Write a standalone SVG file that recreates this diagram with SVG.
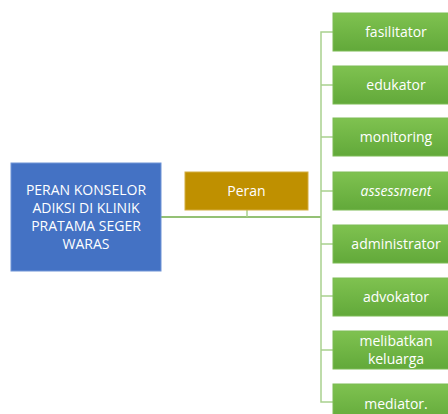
<svg xmlns="http://www.w3.org/2000/svg" width="448" height="414" viewBox="0 0 448 414">
<style>
.t{font-family:"Open Sans","Liberation Sans",sans-serif;font-size:14px;fill:#fff;text-anchor:middle}
.g{fill:url(#gg);stroke:#7dbb55;stroke-width:1}
.c{fill:none;stroke:#a9d18e;stroke-width:1.5}
</style>
<defs>
<linearGradient id="gg" x1="0" y1="0" x2="0" y2="1">
<stop offset="0" stop-color="#7fc250"/>
<stop offset="1" stop-color="#62a93a"/>
</linearGradient>
</defs>
<rect width="448" height="414" fill="#fff"/>
<g id="connectors">
<line x1="161" y1="217" x2="321" y2="217" stroke="#70ad47" stroke-width="1.5"/>
<line x1="247" y1="210" x2="247" y2="217" class="c"/>
<path class="c" d="M333 32H321V402H333M321 85H333M321 137H333M321 191H333M321 244H333M321 296H333M321 350H333"/>
</g>
<g id="root">
<rect x="11" y="163" width="150" height="108" fill="#4472c4" stroke="#6f94d6" stroke-width="1"/>
<text class="t" x="86" y="195">PERAN KONSELOR</text>
<text class="t" x="86" y="213">ADIKSI DI KLINIK</text>
<text class="t" x="86" y="231">PRATAMA SEGER</text>
<text class="t" x="86" y="249">WARAS</text>
</g>
<g id="peran">
<rect x="185" y="172" width="123" height="38" fill="#bf9000" stroke="#d4ad40" stroke-width="1"/>
<text class="t" x="246.5" y="196">Peran</text>
</g>
<g id="n1"><rect class="g" x="333" y="13" width="126" height="38"/><text class="t" x="396" y="37">fasilitator</text></g>
<g id="n2"><rect class="g" x="333" y="66" width="126" height="38"/><text class="t" x="396" y="90">edukator</text></g>
<g id="n3"><rect class="g" x="333" y="118" width="126" height="38"/><text class="t" x="396" y="142">monitoring</text></g>
<g id="n4"><rect class="g" x="333" y="172" width="126" height="38"/><text class="t" x="396" y="196" font-style="italic">assessment</text></g>
<g id="n5"><rect class="g" x="333" y="225" width="126" height="38"/><text class="t" x="396" y="249">administrator</text></g>
<g id="n6"><rect class="g" x="333" y="278" width="126" height="38"/><text class="t" x="396" y="302">advokator</text></g>
<g id="n7"><rect class="g" x="333" y="331" width="126" height="38"/><text class="t" x="396" y="346">melibatkan</text><text class="t" x="396" y="364">keluarga</text></g>
<g id="n8"><rect class="g" x="333" y="384" width="126" height="38"/><text class="t" x="396" y="409">mediator.</text></g>
</svg>
